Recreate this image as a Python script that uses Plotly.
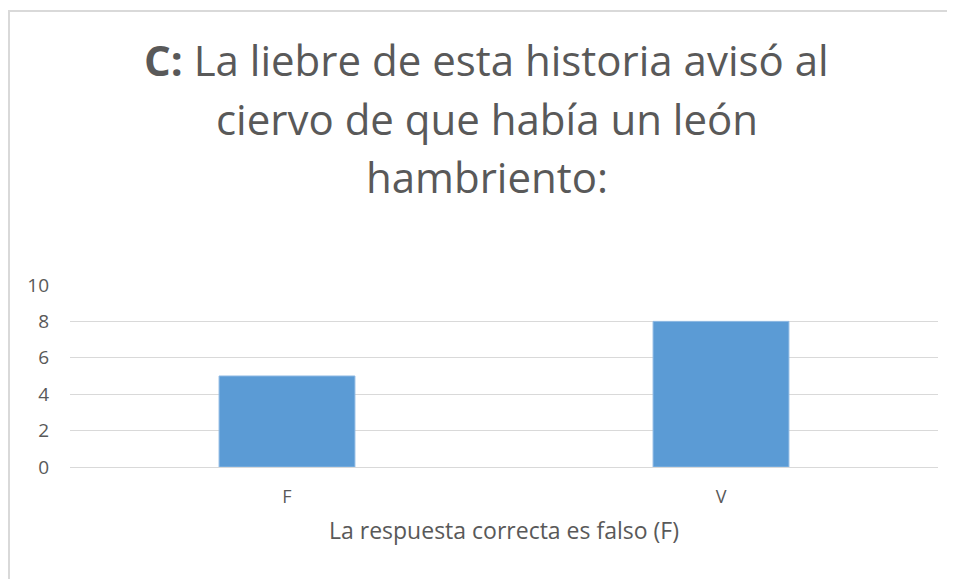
import plotly.graph_objects as go

categories = ["F", "V"]
values = [5, 8]
title_lines = ["<b>C:</b> La liebre de esta historia avisó al",
               "ciervo de que había un león",
               "hambriento:"]
x_title = "La respuesta correcta es falso (F)"

grey = "#595959"

fig = go.Figure(go.Bar(
    x=categories, y=values,
    marker=dict(color="#5B9BD5", line=dict(color="#8CB8E3", width=1)),
    width=0.313,
))

# one annotation per title line so the line spacing can match
title_y = [2.238, 1.917, 1.595]
annotations = [
    dict(text=line, xref="paper", yref="paper", x=0.480, y=ty,
         yanchor="middle", xanchor="center", showarrow=False,
         font=dict(size=42, color=grey))
    for line, ty in zip(title_lines, title_y)
]

# page body has an 8px margin, so the figure is a bit smaller than the window
fig.update_layout(
    width=947, height=571,
    margin=dict(l=62, r=17, t=277, b=112),
    paper_bgcolor="white", plot_bgcolor="white",
    font=dict(family="Open Sans", color=grey),
    showlegend=False,
    annotations=annotations,
    shapes=[dict(
        type="rect", xref="paper", yref="paper",
        x0=-0.0703, x1=1.2, y0=-2, y1=2.505,
        line=dict(color="#D9D9D9", width=2), layer="below",
    )],
)
fig.update_xaxes(
    showline=True, linecolor="#D9D9D9", linewidth=1,
    tickfont=dict(size=18, color=grey), ticks="", ticklabelstandoff=13,
    title=dict(text=x_title, font=dict(size=23, color=grey), standoff=16),
)
fig.update_yaxes(
    range=[0, 10], dtick=2, showgrid=True, gridcolor="#D9D9D9", gridwidth=1,
    zeroline=False, tickfont=dict(size=19, color=grey), ticklabelstandoff=20,
)

fig.write_html("out.html")
